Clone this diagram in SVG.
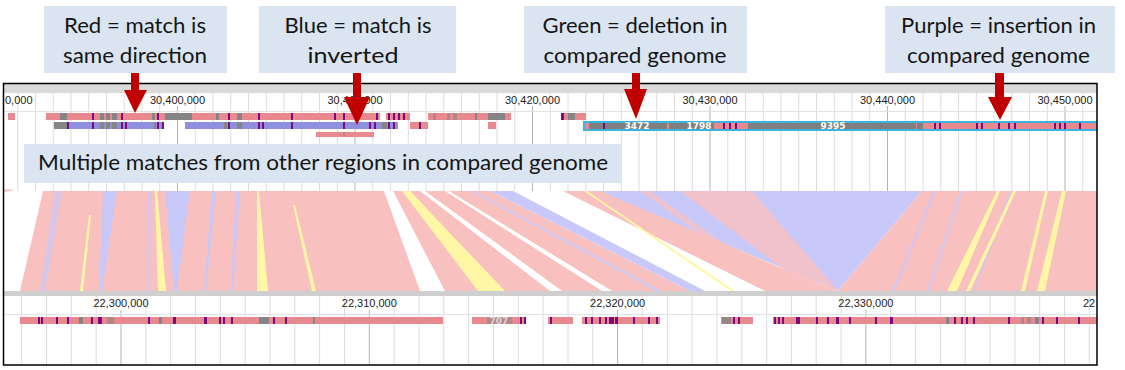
<svg xmlns="http://www.w3.org/2000/svg" width="1125" height="370" viewBox="0 0 1125 370">
<defs>
<style>
.call{fill:#dae5f1}
.ct{font-family:Lato,"Open Sans",sans-serif;font-size:21px;fill:#151515;text-anchor:middle}
.ax{font-family:"Liberation Sans",Arial,sans-serif;font-size:11px;fill:#222;text-anchor:middle}
.gmin{stroke:#dcdcdc;stroke-width:1;fill:none}
.gmaj{stroke:#b4b4b4;stroke-width:1;fill:none}
.pk{fill:#e8898f}
.bl{fill:#8f8fdd}
.gr{fill:#858585}
.pu{fill:#7d0a7d}
.sp{fill:#f9c0c0}
.sb{fill:#c9c9f9}
.sy{fill:#fff7a6}
.sw{fill:#ffffff}
.num{font-family:"DejaVu Sans",Verdana,sans-serif;font-size:9px;font-weight:bold;fill:#ffffff;text-anchor:middle}
.arr{fill:#c00000}
</style>
<clipPath id="frame"><rect x="3" y="83" width="1094" height="282"/></clipPath>
</defs>
<rect width="1125" height="370" fill="#ffffff"/>

<g id="browser" clip-path="url(#frame)">
  <rect x="3" y="83" width="1094" height="282" fill="#ffffff"/>
  <!-- top panel -->
  <rect x="3" y="84" width="1094" height="9" fill="#dadada"/>
  <path class="gmin" d="M17.75 93V191M35.5 93V191M53.25 93V191M71 93V191M88.75 93V191M106.5 93V191M124.25 93V191M142 93V191M159.75 93V191M195.25 93V191M213 93V191M230.75 93V191M248.5 93V191M266.25 93V191M284 93V191M301.75 93V191M319.5 93V191M337.25 93V191M372.75 93V191M390.5 93V191M408.25 93V191M426 93V191M443.75 93V191M461.5 93V191M479.25 93V191M497 93V191M514.75 93V191M550.25 93V191M568 93V191M585.75 93V191M603.5 93V191M621.25 93V191M639 93V191M656.75 93V191M674.5 93V191M692.25 93V191M727.75 93V191M745.5 93V191M763.25 93V191M781 93V191M798.75 93V191M816.5 93V191M834.25 93V191M852 93V191M869.75 93V191M905.25 93V191M923 93V191M940.75 93V191M958.5 93V191M976.25 93V191M994 93V191M1011.75 93V191M1029.5 93V191M1047.25 93V191M1082.75 93V191"/>
  <path class="gmaj" d="M177.5 106V191M355 106V191M532.5 106V191M710 106V191M887.5 106V191M1065 106V191"/>
  <path d="M3 111.5H1097" stroke="#e2e2e2" stroke-width="1"/>
  <text class="ax" x="5" y="104" style="text-anchor:start">0,000</text>
  <text class="ax" x="177.5" y="104">30,400,000</text>
  <text class="ax" x="355" y="104">30,410,000</text>
  <text class="ax" x="532.5" y="104">30,420,000</text>
  <text class="ax" x="710" y="104">30,430,000</text>
  <text class="ax" x="887.5" y="104">30,440,000</text>
  <text class="ax" x="1065" y="104">30,450,000</text>

  <!-- row 1 -->
  <g id="row1">
    <rect class="pk" x="8" y="113" width="7" height="7"/>
    <rect class="pk" x="46" y="113" width="334" height="7"/>
    <rect class="pk" x="386" y="113" width="24" height="7"/>
    <rect class="pk" x="428" y="113" width="83" height="7"/>
    <rect class="pk" x="561" y="113" width="25" height="7"/>
    <rect class="gr" x="60" y="113" width="7" height="7"/>
    <rect class="gr" x="100" y="113" width="4" height="7"/>
    <rect class="gr" x="106" y="113" width="4" height="7"/>
    <rect class="gr" x="112" y="113" width="5" height="7"/>
    <rect class="gr" x="152" y="113" width="3" height="7"/>
    <rect class="gr" x="165" y="113" width="27" height="7"/>
    <rect class="gr" x="216" y="113" width="3" height="7"/>
    <rect class="gr" x="237" y="113" width="5" height="7"/>
    <rect class="gr" x="433" y="113" width="3" height="7" opacity="0.6"/>
    <rect class="gr" x="447" y="113" width="3" height="7" opacity="0.6"/>
    <rect class="gr" x="453" y="113" width="4" height="7" opacity="0.6"/>
    <rect class="gr" x="475" y="113" width="2" height="7"/>
    <rect class="gr" x="488" y="113" width="17" height="7"/>
    <rect class="gr" x="568" y="113" width="7" height="7"/>
    <rect class="pu" x="92" y="113" width="2" height="7"/>
    <rect class="pu" x="121" y="113" width="2" height="7"/>
    <rect class="pu" x="157" y="113" width="2" height="7"/>
    <rect class="pu" x="228" y="113" width="2" height="7"/>
    <rect class="pu" x="258" y="113" width="2" height="7"/>
    <rect class="pu" x="291" y="113" width="2" height="7"/>
    <rect class="pu" x="334" y="113" width="2" height="7"/>
    <rect class="pu" x="343" y="113" width="2" height="7"/>
    <rect class="pu" x="376" y="113" width="2" height="7"/>
    <rect class="pu" x="388" y="113" width="2" height="7"/>
    <rect class="pu" x="393" y="113" width="2" height="7"/>
    <rect class="pu" x="398" y="113" width="2" height="7"/>
    <rect class="pu" x="403" y="113" width="2" height="7"/>
    <rect class="pu" x="561" y="113" width="3" height="7"/>
  </g>
  <!-- row 2 -->
  <g id="row2">
    <rect class="bl" x="54" y="122" width="110" height="7"/>
    <rect class="bl" x="185" y="122" width="213" height="7"/>
    <rect class="gr" x="54" y="122" width="13" height="7"/>
    <rect class="gr" x="100" y="122" width="4" height="7"/>
    <rect class="gr" x="106" y="122" width="4" height="7"/>
    <rect class="gr" x="112" y="122" width="5" height="7"/>
    <rect class="gr" x="154" y="122" width="2" height="7"/>
    <rect class="gr" x="224" y="122" width="3" height="7"/>
    <rect class="gr" x="237" y="122" width="5" height="7"/>
    <rect class="gr" x="382" y="122" width="5" height="7"/>
    <rect class="pu" x="67" y="122" width="2" height="7"/>
    <rect class="pu" x="92" y="122" width="2" height="7"/>
    <rect class="pu" x="121" y="122" width="2" height="7"/>
    <rect class="pu" x="125" y="122" width="2" height="7"/>
    <rect class="pu" x="157" y="122" width="2" height="7"/>
    <rect class="pu" x="162" y="122" width="2" height="7"/>
    <rect class="pu" x="228" y="122" width="2" height="7"/>
    <rect class="pu" x="258" y="122" width="2" height="7"/>
    <rect class="pu" x="262" y="122" width="2" height="7"/>
    <rect class="pu" x="291" y="122" width="2" height="7"/>
    <rect class="pu" x="343" y="122" width="2" height="7"/>
    <rect class="pu" x="369" y="122" width="2" height="7"/>
    <rect class="pu" x="374" y="122" width="2" height="7"/>
    <rect class="pu" x="388" y="122" width="2" height="7"/>
    <rect class="pu" x="393" y="122" width="2" height="7"/>
    <rect class="pk" x="410" y="122" width="18" height="7"/>
    <rect class="pu" x="419" y="122" width="2" height="7"/>
    <rect class="pk" x="488" y="122" width="8" height="7"/>
  </g>
  <rect class="pk" x="316" y="132" width="58" height="5"/>
  <rect class="gr" x="343" y="132" width="2" height="5" opacity="0.5"/>

  <!-- highlighted compared region -->
  <g id="row2-highlight">
    <rect x="584" y="122" width="520" height="8" fill="#7f7f7f" stroke="#3cb3dc" stroke-width="2"/>
    <rect class="pk" x="585" y="123" width="4" height="6"/>
    <rect class="pu" x="603" y="123" width="2" height="6"/>
    <rect class="pk" x="667" y="123" width="2" height="6"/>
    <rect class="pk" x="714" y="123" width="34" height="6"/>
    <rect class="pu" x="723" y="123" width="2" height="6"/>
    <rect class="pu" x="729" y="123" width="2" height="6"/>
    <rect class="pu" x="735" y="123" width="2" height="6"/>
    <rect class="pk" x="916" y="123" width="1" height="6"/>
    <rect class="pk" x="923" y="123" width="176" height="6"/>
    <rect class="pu" x="934" y="123" width="2" height="6"/>
    <rect class="pu" x="939" y="123" width="2" height="6"/>
    <rect class="pu" x="976" y="123" width="2" height="6"/>
    <rect class="pu" x="981" y="123" width="2" height="6"/>
    <rect class="pu" x="998" y="123" width="2" height="6"/>
    <rect class="pu" x="1008" y="123" width="2" height="6"/>
    <rect class="pu" x="1014" y="123" width="2" height="6"/>
    <rect class="pu" x="1054" y="123" width="2" height="6"/>
    <rect class="pu" x="1059" y="123" width="2" height="6"/>
    <rect class="pu" x="1064" y="123" width="2" height="6"/>
    <rect class="pu" x="1079" y="123" width="2" height="6"/>
    <text class="num" x="637" y="129">3472</text>
    <text class="num" x="699" y="129">1798</text>
    <text class="num" x="833" y="129">9395</text>
  </g>

  <!-- synteny -->
  <g id="synteny">
    <polygon class="sp" points="43,191 384,191 420,291 20,291"/>
    <polygon class="sp" points="3,189 15,190 5,192 3,192"/>
    <polygon class="sb" points="55,191 62,191 45,291 40,291" opacity="0.7"/>
    <polygon class="sb" points="103,191 117,191 102,291 99,291"/>
    <polygon class="sb" points="148,191 151,191 150,291 148,291" opacity="0.7"/>
    <polygon class="sb" points="165,191 190,191 177,291 174,291"/>
    <polygon class="sb" points="212,191 216,191 206,291 204,291"/>
    <polygon class="sb" points="236,191 240,191 233,291 231,291"/>
    <polygon class="sy" points="89,215 91,215 83,291 80,291"/>
    <polygon class="sy" points="155,191 157,191 166,291 158,291"/>
    <polygon class="sy" points="257,191 259,191 268,291 257,291"/>
    <polygon class="sy" points="293,205 295,205 316,291 312,291"/>

    <polygon class="sp" points="393,191 490,191 690,291 445,291"/>
    <polygon class="sy" points="402,191 410,191 505,291 478,291"/>
    <polygon class="sw" points="420,191 425,191 562,291 550,291"/>
    <polygon class="sw" points="445,191 449,191 612,291 602,291"/>
    <polygon class="sb" points="470,191 474,191 662,291 656,291" opacity="0.8"/>
    <polygon class="sb" points="490,191 513,191 705,291 690,291"/>

    <polygon class="sb" points="597,191 922,191 838,291"/>
    <polygon class="sp" points="563,191 600,191 836,291 765,291"/>
    <polygon class="sy" points="584,191 587,191 735,291 731,291"/>
    <polygon class="sp" points="680,191 752,191 838,291 812,291" opacity="0.8"/>
    <polygon class="sp" points="640,191 650,191 790,291 780,291" opacity="0.7"/>

    <polygon class="sp" points="922,191 1097,191 1097,291 838,291"/>
    <polygon class="sb" points="933,191 936,191 895,291 892,291" opacity="0.7"/>
    <polygon class="sb" points="960,191 963,191 930,291 927,291" opacity="0.7"/>
    <polygon class="sb" points="1010,191 1012,191 975,291 973,291" opacity="0.7"/>
    <polygon class="sy" points="997,191 1000,191 957,291 947,291"/>
    <polygon class="sy" points="1013,191 1016,191 970,291 966,291"/>
    <polygon class="sy" points="1045,191 1048,191 1025,291 1021,291"/>
    <polygon class="sy" points="1062,191 1066,191 1045,291 1037,291"/>
  </g>

  <!-- bottom panel -->
  <rect x="3" y="291" width="1094" height="5" fill="#cfcfcf"/>
  <path class="gmin" d="M21.7 296V366M46.5 296V366M71.3 296V366M96.2 296V366M145.8 296V366M170.7 296V366M195.5 296V366M220.3 296V366M245.2 296V366M270 296V366M294.8 296V366M319.6 296V366M344.5 296V366M394.1 296V366M419 296V366M443.8 296V366M468.6 296V366M493.5 296V366M518.3 296V366M543.1 296V366M568 296V366M592.8 296V366M642.4 296V366M667.3 296V366M692.1 296V366M716.9 296V366M741.8 296V366M766.6 296V366M791.4 296V366M816.2 296V366M841.1 296V366M890.7 296V366M915.6 296V366M940.4 296V366M965.2 296V366M990.1 296V366M1014.9 296V366M1039.7 296V366M1064.5 296V366M1089.4 296V366"/>
  <path class="gmaj" d="M121 310V366M369.3 310V366M617.6 310V366M865.9 310V366"/>
  <path d="M3 314.5H1097" stroke="#e2e2e2" stroke-width="1"/>
  <text class="ax" x="121" y="307">22,300,000</text>
  <text class="ax" x="369.3" y="307">22,310,000</text>
  <text class="ax" x="617.6" y="307">22,320,000</text>
  <text class="ax" x="865.9" y="307">22,330,000</text>
  <text class="ax" x="1083" y="307" style="text-anchor:start">22</text>

  <g id="row-bottom">
    <rect class="pk" x="20" y="317" width="423" height="7"/>
    <rect class="pk" x="472" y="317" width="54" height="7"/>
    <rect class="pk" x="548" y="317" width="25" height="7"/>
    <rect class="pk" x="582" y="317" width="78" height="7"/>
    <rect class="pk" x="721" y="317" width="32" height="7"/>
    <rect class="pk" x="773" y="317" width="330" height="7"/>
    <rect class="gr" x="79" y="317" width="4" height="7"/>
    <rect class="gr" x="107" y="317" width="7" height="7" opacity="0.6"/>
    <rect class="gr" x="159" y="317" width="3" height="7"/>
    <rect class="gr" x="259" y="317" width="10" height="7"/>
    <rect class="gr" x="313" y="317" width="2" height="7"/>
    <rect class="gr" x="487" y="317" width="25" height="7" opacity="0.55"/>
    <rect class="gr" x="722" y="317" width="9" height="7" opacity="0.8"/>
    <rect class="gr" x="946" y="317" width="3" height="7"/>
    <rect class="gr" x="1021" y="317" width="3" height="7" opacity="0.6"/>
    <rect class="gr" x="1027" y="317" width="4" height="7" opacity="0.6"/>
    <rect class="gr" x="1035" y="317" width="4" height="7"/>
    <rect class="pu" x="38" y="317" width="2" height="7"/>
    <rect class="pu" x="41" y="317" width="2" height="7"/>
    <rect class="pu" x="56" y="317" width="2" height="7"/>
    <rect class="pu" x="67" y="317" width="2" height="7"/>
    <rect class="pu" x="91" y="317" width="2" height="7"/>
    <rect class="pu" x="98" y="317" width="4" height="7"/>
    <rect class="pu" x="148" y="317" width="2" height="7"/>
    <rect class="pu" x="173" y="317" width="3" height="7"/>
    <rect class="pu" x="204" y="317" width="3" height="7"/>
    <rect class="pu" x="219" y="317" width="2" height="7"/>
    <rect class="pu" x="223" y="317" width="2" height="7"/>
    <rect class="pu" x="231" y="317" width="2" height="7"/>
    <rect class="pu" x="273" y="317" width="2" height="7"/>
    <rect class="pu" x="285" y="317" width="2" height="7"/>
    <rect class="pu" x="520" y="317" width="2" height="7"/>
    <rect class="pu" x="524" y="317" width="2" height="7"/>
    <rect class="pu" x="550" y="317" width="2" height="7"/>
    <rect class="pu" x="585" y="317" width="2" height="7"/>
    <rect class="pu" x="591" y="317" width="2" height="7"/>
    <rect class="pu" x="599" y="317" width="2" height="7"/>
    <rect class="pu" x="605" y="317" width="2" height="7"/>
    <rect class="pu" x="609" y="317" width="5" height="7"/>
    <rect class="pu" x="615" y="317" width="3" height="7"/>
    <rect class="pu" x="633" y="317" width="2" height="7"/>
    <rect class="pu" x="648" y="317" width="2" height="7"/>
    <rect class="pu" x="656" y="317" width="2" height="7"/>
    <rect class="pu" x="733" y="317" width="2" height="7"/>
    <rect class="pu" x="738" y="317" width="2" height="7"/>
    <rect class="pu" x="774" y="317" width="2" height="7"/>
    <rect class="pu" x="778" y="317" width="2" height="7"/>
    <rect class="pu" x="782" y="317" width="2" height="7"/>
    <rect class="pu" x="796" y="317" width="4" height="7"/>
    <rect class="pu" x="816" y="317" width="2" height="7"/>
    <rect class="pu" x="827" y="317" width="2" height="7"/>
    <rect class="pu" x="836" y="317" width="3" height="7"/>
    <rect class="pu" x="849" y="317" width="2" height="7"/>
    <rect class="pu" x="875" y="317" width="2" height="7"/>
    <rect class="pu" x="890" y="317" width="3" height="7"/>
    <rect class="pu" x="954" y="317" width="2" height="7"/>
    <rect class="pu" x="961" y="317" width="2" height="7"/>
    <rect class="pu" x="966" y="317" width="2" height="7"/>
    <rect class="pu" x="973" y="317" width="2" height="7"/>
    <rect class="pu" x="1008" y="317" width="2" height="7"/>
    <rect class="pu" x="1042" y="317" width="2" height="7"/>
    <rect class="pu" x="1056" y="317" width="2" height="7"/>
    <rect class="pu" x="1078" y="317" width="2" height="7"/>
    <text x="499" y="324" font-family="'DejaVu Sans',sans-serif" font-size="9" font-weight="bold" fill="#e8e8e8" text-anchor="middle" opacity="0.8">707</text>
  </g>
</g>
<rect x="3.5" y="83.5" width="1093.5" height="281.5" fill="none" stroke="#000000" stroke-width="1.5"/>

<!-- callouts -->
<g id="callout-red">
  <rect class="call" x="44" y="6" width="183" height="67"/>
  <text class="ct" x="135" y="33" textLength="142" lengthAdjust="spacingAndGlyphs">Red = match is</text>
  <text class="ct" x="135" y="63" textLength="144" lengthAdjust="spacingAndGlyphs">same direction</text>
</g>
<g id="callout-blue">
  <rect class="call" x="259" y="6" width="197" height="67"/>
  <text class="ct" x="358" y="33" textLength="147" lengthAdjust="spacingAndGlyphs">Blue = match is</text>
  <text class="ct" x="353" y="63" textLength="91" lengthAdjust="spacingAndGlyphs">inverted</text>
</g>
<g id="callout-green">
  <rect class="call" x="524" y="6" width="223" height="67"/>
  <text class="ct" x="635" y="33" textLength="185" lengthAdjust="spacingAndGlyphs">Green = deletion in</text>
  <text class="ct" x="635" y="63" textLength="183" lengthAdjust="spacingAndGlyphs">compared genome</text>
</g>
<g id="callout-purple">
  <rect class="call" x="885" y="6" width="230" height="67"/>
  <text class="ct" x="998.5" y="33" textLength="195" lengthAdjust="spacingAndGlyphs">Purple = insertion in</text>
  <text class="ct" x="998.5" y="63" textLength="183" lengthAdjust="spacingAndGlyphs">compared genome</text>
</g>
<g id="callout-multiple">
  <rect class="call" x="24" y="144" width="598" height="39"/>
  <text class="ct" x="38" y="170" style="text-anchor:start" textLength="570" lengthAdjust="spacingAndGlyphs">Multiple matches from other regions in compared genome</text>
</g>

<!-- connectors -->
<g id="connectors">
  <polygon class="arr" points="131,73 139,73 139,90 147,90 135,113 124,90 131,90"/>
  <polygon class="arr" points="353,73 361,73 361,97 370,97 357,125 344,97 353,97"/>
  <polygon class="arr" points="632,73 640,73 640,89 647,89 636,119 624,89 632,89"/>
  <polygon class="arr" points="995,73 1004,73 1004,97 1012,97 1000,120 988,97 995,97"/>
</g>
</svg>
